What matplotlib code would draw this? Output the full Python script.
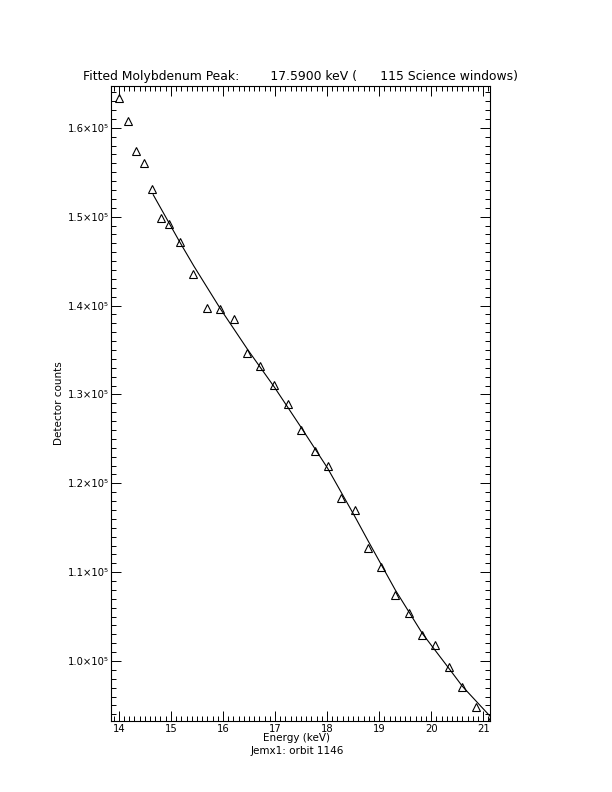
import matplotlib
matplotlib.use("Agg")
import matplotlib.pyplot as plt
from matplotlib.ticker import MultipleLocator, FixedLocator

# measured points (energy keV, counts)
energy = [14.01, 14.17, 14.33, 14.49, 14.64, 14.81, 14.96, 15.17, 15.43, 15.69,
          15.95, 16.21, 16.47, 16.72, 16.99, 17.24, 17.50, 17.76, 18.01, 18.27,
          18.53, 18.79, 19.04, 19.31, 19.57, 19.83, 20.08, 20.35, 20.60, 20.86,
          21.12]
counts = [163320, 160770, 157390, 156030, 153150, 149880, 149160, 147200, 143530, 139740,
          139660, 138540, 134700, 133240, 131070, 128900, 125990, 123630, 121970, 118330,
          117010, 112770, 110590, 107470, 105440, 102930, 101800, 99360, 97110, 94780,
          93300]

# fitted curve
fit_e = [14.66, 15.17, 15.44, 15.96, 16.48, 16.99, 17.50, 18.01, 18.53, 18.79,
         19.31, 19.83, 20.35, 20.60, 21.13]
fit_c = [152470, 147150, 144450, 139550, 135000, 130800, 126300, 121700, 116300, 113500,
         108000, 103100, 99100, 97150, 93800]

yticks = [100000, 110000, 120000, 130000, 140000, 150000, 160000]
ylabels = ["1.0×10⁵", "1.1×10⁵", "1.2×10⁵", "1.3×10⁵", "1.4×10⁵", "1.5×10⁵", "1.6×10⁵"]

fig = plt.figure(figsize=(6.12, 7.92), dpi=100)
ax = fig.add_axes([0.1814, 0.0896, 0.6193, 0.8018])

ax.plot(fit_e, fit_c, 'k-', lw=0.8)
ax.plot(energy, counts, linestyle='none', marker='^', markersize=6,
        markerfacecolor='none', markeredgecolor='k', markeredgewidth=0.8)

ax.set_xlim(13.85, 21.13)
ax.set_ylim(93250, 164700)
ax.xaxis.set_major_locator(MultipleLocator(1))
ax.xaxis.set_minor_locator(MultipleLocator(0.1))
ax.yaxis.set_major_locator(FixedLocator(yticks))
ax.yaxis.set_minor_locator(MultipleLocator(1000))
ax.set_yticklabels(ylabels)

ax.tick_params(which='both', direction='in', top=True, right=True, width=0.7,
               labelsize=7.2, colors='k')
ax.tick_params(which='major', length=7)
ax.tick_params(which='minor', length=3.5)
ax.tick_params(axis='x', pad=2)
ax.tick_params(axis='y', pad=1.5)
for s in ax.spines.values():
    s.set_linewidth(0.8)

ax.set_xlabel("Energy (keV)", fontsize=7.5, va='top')
ax.xaxis.set_label_coords(0.49, -0.019)
ax.set_ylabel("Detector counts", fontsize=7.5)
ax.yaxis.set_label_coords(-0.125, 0.5)
ax.set_title("Fitted Molybdenum Peak:        17.5900 keV (      115 Science windows)",
             fontsize=8.9, pad=4)
fig.text(0.485, 0.0515, "Jemx1: orbit 1146", fontsize=7.5, ha='center', va='center')

fig.savefig("out.png", dpi=100)
